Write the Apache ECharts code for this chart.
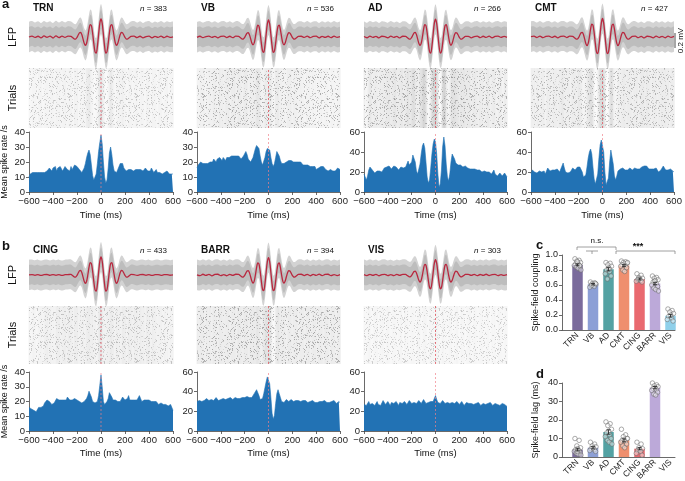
<!DOCTYPE html>
<html><head><meta charset="utf-8">
<script src="https://cdn.jsdelivr.net/npm/echarts@6/dist/echarts.min.js"></script>
<style>html,body{margin:0;padding:0;background:#fff}#c{width:685px;height:481px}</style>
</head><body><div id="c"></div><script>
// ---------------- DATA ----------------
const CATS = ['TRN','VB','AD','CMT','CING','BARR','VIS'];
const N_CELLS = [383,536,266,427,433,394,303];
const RATE_MAX = [40,40,60,60,40,60,60];
const RATE_STEP = [10,10,20,20,10,20,20];
const TIME_TICKS = [-600,-400,-200,0,200,400,600];
const RATE_T0 = -600, RATE_DT = 10;   // histogram bins: -600..600 ms, 10 ms

const TRN_RATE = [10,12,13,13,12,13,14,13,14,13, 14,13,12,13,12,14,15,16,15,14, 16,15,17,14,16,15,17,16,14,15, 17,18,15,16,14,17,15,16,18,17,
 17,16,15,14,13,14,16,19,23,26, 28,25,18,11,8,8,12,19,27,33, 38,32,20,10,6,8,16,26,30,25, 18,14,13,13,15,17,19,20,19,16,
 15,14,14,15,16,15,16,14,13,15, 16,15,14,15,16,14,15,16,15,14, 15,14,16,15,13,14,15,13,14,13, 14,12,13,13,12,14,13,12,13,12, 12];
const VB_RATE = [16,18,19,20,19,19,20,19,18,19, 19,20,21,20,22,21,20,22,21,23, 22,21,23,22,21,23,24,23,22,24, 23,24,23,24,25,24,23,22,23,24,
 25,27,25,22,21,20,21,23,26,29, 31,32,29,24,20,18,19,23,27,29, 30,28,23,19,17,19,23,27,27,24, 21,19,18,19,19,20,21,21,20,21,
 21,20,21,20,19,20,19,20,19,18, 19,18,19,18,19,17,18,17,16,17, 15,15,16,16,17,16,17,16,15,15, 14,14,15,14,14,15,14,14,16,15, 15];
const AD_RATE = [18,15,12,16,22,25,24,22,20,19, 20,21,19,21,22,20,22,24,23,25, 24,26,25,23,24,26,27,25,24,22, 22,25,27,24,22,25,28,31,27,26,
 30,37,38,30,21,18,20,28,38,46, 49,44,30,15,9,12,24,38,48,53, 50,38,18,5,8,22,45,55,46,28, 15,11,18,30,38,39,33,29,28,27,
 26,27,26,25,27,26,25,24,25,23, 22,23,22,23,21,22,21,22,21,20, 20,21,19,20,22,20,19,18,20,22, 18,17,16,17,19,18,16,17,19,18, 15];
const CMT_RATE = [18,22,24,20,18,19,20,21,19,20, 20,21,18,20,24,23,21,20,22,21, 22,21,23,22,20,22,26,29,24,20, 20,19,21,20,22,24,23,22,24,25,
 26,25,24,20,15,13,17,25,34,40, 43,38,25,13,8,9,18,34,47,52, 51,40,20,7,6,14,30,42,40,28, 16,12,16,21,23,23,22,24,23,22,
 23,22,23,24,23,22,23,24,23,23, 22,23,24,25,26,26,25,26,24,23, 24,23,24,23,22,24,23,20,21,22, 24,26,25,22,21,22,21,23,22,21, 20];
const CING_RATE = [16,15,15,14,14,13,13,14,16,17, 16,17,17,19,20,21,21,20,19,18, 18,19,20,22,22,21,22,21,20,21, 22,21,23,22,21,20,21,20,22,21,
 21,20,20,19,19,20,20,21,22,24, 27,26,23,20,19,19,18,20,24,31, 38,30,20,18,19,20,22,26,27,23, 21,20,21,21,20,20,20,21,23,24,
 21,20,22,24,21,20,21,22,21,20, 21,22,24,22,20,20,21,20,21,21, 21,20,20,21,20,19,20,19,18,19, 19,18,18,19,18,18,17,18,18,17, 14];
const BARR_RATE = [30,32,31,33,30,32,31,30,33,32, 31,33,32,30,31,33,34,32,31,33, 32,31,33,34,32,31,33,32,34,33, 32,33,34,32,33,35,33,32,34,33,
 34,33,35,36,34,33,34,36,38,40, 42,40,36,32,30,33,38,44,50,55, 56,48,34,18,12,16,28,38,42,38, 34,30,28,29,31,32,31,30,31,32,
 31,30,32,31,30,31,32,30,29,31, 30,31,30,29,31,30,29,31,30,29, 30,29,31,30,28,30,29,31,30,29, 30,29,28,30,29,31,30,28,29,30, 29];
const VIS_RATE = [27,29,26,28,30,27,25,28,29,26, 28,30,27,29,26,28,31,29,27,28, 30,28,26,29,31,28,27,30,28,26, 29,31,28,27,30,29,27,28,31,29,
 28,30,29,27,28,30,31,29,28,30, 32,30,28,27,29,31,30,28,30,33, 36,32,29,27,28,30,31,29,28,30, 29,27,28,30,29,27,28,29,30,28,
 27,29,30,28,26,28,29,27,28,30, 28,26,27,29,28,27,29,28,26,27, 28,29,27,26,28,27,29,28,26,27, 28,26,27,28,26,27,28,26,27,26, 25];

// mean LFP (mV) sampled at these times (ms)
const LFP_T = [-600,-575,-550,-525,-500,-475,-450,-425,-400,-375,-350,-325,-300,-275,
 -250,-240,-230,-220,-210,-200,-190,-180,-170,-160,-150,-140,-130,-120,-110,-100,-90,-80,-70,-60,-50,-40,-30,-20,-10,
 0,10,20,30,40,50,60,70,80,90,100,110,120,130,140,150,160,170,180,190,200,210,220,230,240,250,
 275,300,325,350,375,400,425,450,475,500,525,550,575,600];
const TRN_LFP = [0.000,0.012,-0.006,0.010,-0.012,0.014,-0.004,0.011,-0.013,0.016,-0.008,0.012,-0.005,0.013,
 0.008,-0.003,-0.017,-0.028,-0.026,-0.006,0.026,0.055,0.060,0.032,-0.025,-0.084,-0.112,-0.083,0.000,0.101,0.166,0.152,0.054,-0.085,-0.196,-0.215,-0.125,0.034,0.181,
 0.240,0.181,0.034,-0.125,-0.215,-0.196,-0.085,0.054,0.152,0.166,0.101,0.000,-0.083,-0.112,-0.084,-0.025,0.032,0.060,0.055,0.026,-0.006,-0.026,-0.028,-0.017,-0.003,0.008,
 0.012,-0.008,0.010,-0.012,0.006,0.013,-0.010,0.008,-0.006,0.012,-0.009,0.010,-0.004,0.003];
const VB_LFP = [-0.004,0.010,-0.008,0.006,0.012,-0.006,0.009,-0.011,0.008,0.013,-0.007,0.010,-0.009,0.011,
 0.008,-0.003,-0.016,-0.027,-0.025,-0.006,0.025,0.052,0.057,0.030,-0.024,-0.080,-0.106,-0.079,0.000,0.096,0.158,0.144,0.051,-0.081,-0.186,-0.204,-0.119,0.032,0.172,
 0.228,0.172,0.032,-0.119,-0.204,-0.186,-0.081,0.051,0.144,0.158,0.096,0.000,-0.079,-0.106,-0.080,-0.024,0.030,0.057,0.052,0.025,-0.006,-0.025,-0.027,-0.016,-0.003,0.008,
 0.010,-0.006,0.012,-0.009,0.007,0.011,-0.012,0.009,-0.005,0.010,-0.008,0.012,-0.006,0.004];
const AD_LFP = [0.006,-0.010,0.012,-0.004,0.009,-0.012,0.010,0.004,-0.010,0.012,-0.006,0.008,-0.012,0.010,
 0.008,-0.003,-0.017,-0.028,-0.026,-0.006,0.026,0.055,0.060,0.032,-0.025,-0.084,-0.112,-0.083,0.000,0.101,0.166,0.152,0.054,-0.085,-0.196,-0.215,-0.125,0.034,0.181,
 0.238,0.180,0.034,-0.124,-0.213,-0.194,-0.084,0.054,0.150,0.164,0.100,0.000,-0.082,-0.110,-0.083,-0.025,0.032,0.059,0.054,0.026,-0.006,-0.026,-0.028,-0.017,-0.003,0.008,
 0.009,-0.011,0.006,0.012,-0.008,0.010,-0.006,0.011,-0.010,0.007,0.012,-0.005,0.009,-0.004];
const CMT_LFP = [0.004,0.011,-0.007,0.012,-0.009,0.008,0.013,-0.006,0.010,-0.011,0.009,0.012,-0.007,0.011,
 0.008,-0.003,-0.018,-0.029,-0.027,-0.006,0.027,0.057,0.062,0.033,-0.026,-0.087,-0.115,-0.085,0.000,0.104,0.171,0.157,0.056,-0.088,-0.202,-0.221,-0.129,0.035,0.186,
 0.247,0.186,0.035,-0.129,-0.221,-0.202,-0.088,0.056,0.157,0.171,0.104,0.000,-0.085,-0.115,-0.087,-0.026,0.033,0.062,0.057,0.027,-0.006,-0.027,-0.029,-0.018,-0.003,0.008,
 0.011,-0.009,0.008,-0.012,0.010,0.006,-0.011,0.012,-0.007,0.009,-0.010,0.011,-0.006,0.008];
const CING_LFP = [0.002,0.006,-0.004,0.005,-0.006,0.004,0.007,-0.005,0.006,-0.004,0.005,-0.006,0.004,0.006,
 0.008,-0.003,-0.017,-0.028,-0.026,-0.006,0.026,0.055,0.060,0.032,-0.025,-0.084,-0.112,-0.083,0.000,0.101,0.166,0.152,0.054,-0.085,-0.196,-0.215,-0.125,0.034,0.181,
 0.240,0.181,0.034,-0.125,-0.215,-0.196,-0.085,0.054,0.152,0.166,0.101,0.000,-0.083,-0.112,-0.084,-0.025,0.032,0.060,0.055,0.026,-0.006,-0.026,-0.028,-0.017,-0.003,0.008,
 0.005,-0.006,0.004,0.007,-0.004,0.005,-0.006,0.004,0.006,-0.005,0.004,0.006,-0.003,0.002];
const BARR_LFP = [0.003,-0.008,0.010,-0.006,0.009,-0.011,0.007,0.010,-0.008,0.006,-0.010,0.009,-0.005,0.010,
 0.008,-0.003,-0.016,-0.027,-0.025,-0.006,0.025,0.053,0.058,0.031,-0.024,-0.081,-0.109,-0.081,0.000,0.098,0.161,0.147,0.052,-0.082,-0.190,-0.209,-0.121,0.033,0.176,
 0.233,0.176,0.033,-0.121,-0.209,-0.190,-0.082,0.052,0.147,0.161,0.098,0.000,-0.081,-0.109,-0.081,-0.024,0.031,0.058,0.053,0.025,-0.006,-0.025,-0.027,-0.016,-0.003,0.008,
 0.010,-0.007,0.009,-0.010,0.008,-0.006,0.011,-0.008,0.007,0.010,-0.009,0.006,-0.007,0.005];
const VIS_LFP = [0.005,-0.007,0.009,-0.005,0.008,-0.010,0.006,0.009,-0.007,0.005,-0.009,0.008,-0.004,0.009,
 0.007,-0.003,-0.014,-0.024,-0.022,-0.005,0.022,0.047,0.051,0.027,-0.021,-0.071,-0.095,-0.071,0.000,0.086,0.141,0.129,0.046,-0.072,-0.167,-0.183,-0.106,0.029,0.154,
 0.204,0.154,0.029,-0.106,-0.183,-0.167,-0.072,0.046,0.129,0.141,0.086,0.000,-0.071,-0.095,-0.071,-0.021,0.027,0.051,0.047,0.022,-0.005,-0.022,-0.024,-0.014,-0.003,0.007,
 0.009,-0.006,0.008,-0.009,0.007,-0.005,0.010,-0.007,0.006,0.009,-0.008,0.005,-0.006,0.004];

// panel c: spike-field coupling, panel d: spike-field lag (ms)
const COUPLING_MEAN = [0.87,0.61,0.81,0.86,0.68,0.62,0.19];
const COUPLING_SEM  = [0.012,0.010,0.022,0.012,0.012,0.016,0.018];
const COUPLING_PTS = [
 [0.95,0.93,0.92,0.90,0.89,0.88,0.87,0.86,0.85,0.84,0.82,0.80,0.91,0.86],
 [0.64,0.63,0.62,0.61,0.60,0.59,0.58,0.57,0.62,0.60],
 [0.90,0.89,0.87,0.85,0.83,0.80,0.78,0.75,0.72,0.68,0.82],
 [0.92,0.91,0.90,0.89,0.88,0.87,0.86,0.85,0.83,0.80,0.78,0.90],
 [0.75,0.73,0.70,0.69,0.68,0.67,0.66,0.65,0.64,0.68],
 [0.72,0.70,0.69,0.67,0.66,0.64,0.62,0.60,0.58,0.56,0.54,0.52,0.65],
 [0.28,0.26,0.24,0.22,0.20,0.18,0.16,0.14,0.12]];
const LAG_MEAN = [4.0,5.0,13.5,9.0,4.5,37.5,null];
const LAG_SEM  = [0.7,0.6,1.2,0.8,0.6,0.6,null];
const LAG_PTS = [
 [10,9,6,5,4.5,4,3.5,3,2.5,2,1.5,1,3],
 [8,7,6,5.5,5,4.5,4,3.5,3],
 [19,18,17,15,14,13,12,11,10,9,8,7],
 [15,12,11,10,9.5,9,8.5,8,7,6,5,10],
 [8,7,5,4.5,4,3.5,3,2,1],
 [40,39,38.5,38,37.5,37,36.5,36,35,34,33.5],
 []];

// ---------------- STYLE / LAYOUT ----------------
const FONT = '"Liberation Sans", Arial, Helvetica, sans-serif';
const BAR_COLORS = ['#7a6b9c','#8c9fd6','#54a2a3','#ef8f6e','#e9696f','#bca9d9','#8fd0ea'];
const HIST_BLUE = '#2272b4';
const RED = '#b8283f';
const RATES = [TRN_RATE,VB_RATE,AD_RATE,CMT_RATE,CING_RATE,BARR_RATE,VIS_RATE];
const LFPS = [TRN_LFP,VB_LFP,AD_LFP,CMT_LFP,CING_LFP,BARR_LFP,VIS_LFP];
const COLS = [[29,173],[197,340],[364,507],[531,674],[29,173],[197,340],[364,507]];
const ROWOF = [0,0,0,0,1,1,1];
const ROWS = [
 {title:8, lfp:37, rasTop:68, rasBot:128, hTop:132, hBot:192, time:215},
 {title:250, lfp:275, rasTop:306, rasBot:364, hTop:372, hBot:431, time:453}];
const RASTER_TONE = [0.10,0.10,0.18,0.16,0.10,0.12,0.06];
const RASTER_SPECK = [0.32,0.45,0.45,0.4,0.32,0.45,0.28];
const BAND_OUT = 0.2, BAND_IN = 0.13;   // half-widths (mV) of gray trace cloud
const JIT = [-0.55,0.35,-0.15,0.65,0.05,-0.4,0.25,-0.7,0.55,-0.25,0.15,0.75,-0.05,0.45];

// speckle texture (deterministic hash) for raster look
const SPECK = (function(){
  const c=document.createElement('canvas'); c.width=67; c.height=53;
  const ctx=c.getContext('2d');
  for(let y=0;y<53;y++) for(let x=0;x<67;x++){
    let h=(Math.imul(x,374761393)+Math.imul(y,668265263))|0;
    h=Math.imul(h^(h>>>13),1274126177); h=(h^(h>>>16))>>>0;
    const v=h%1000;
    if(v<170){ ctx.fillStyle='rgba(30,30,30,'+(0.25+(v%6)*0.1).toFixed(2)+')'; ctx.fillRect(x,y,1,1); }
  }
  return c;
})();

const grids=[], xAxes=[], yAxes=[], series=[], graphics=[];
function minus(v){ return v<0 ? '\u2212'+(-v) : String(v); }
function txt(x,y,text,font,align,valign,rot,extra){
  graphics.push({type:'text', x:x, y:y, rotation:rot||0, silent:true,
    style:Object.assign({text:text, font:font, textAlign:align||'left', textVerticalAlign:valign||'middle', fill:'#111'}, extra||{})});
}
function addGrid(g,xa,ya){ grids.push(Object.assign({containLabel:false, outerBoundsMode:'none'},g)); const gi=grids.length-1;
  xAxes.push(Object.assign({gridIndex:gi},xa)); yAxes.push(Object.assign({gridIndex:gi},ya)); return gi; }
function bandSeries(gi,pts,half,color,z){
  return {type:'custom',xAxisIndex:gi,yAxisIndex:gi,data:pts,silent:true,z:z,clip:true,
    renderItem:function(params,api){
      if(params.dataIndex!==0) return null;
      const up=pts.map(p=>api.coord([p[0],p[1]+half]));
      const lo=pts.map(p=>api.coord([p[0],p[1]-half])).reverse();
      return {type:'polygon',shape:{points:up.concat(lo),smooth:0.25},style:{fill:color}};
    }};
}
function zeroLine(gi,ymax,color){
  return {type:'custom',xAxisIndex:gi,yAxisIndex:gi,data:[[0,0]],silent:true,z:6,
    renderItem:function(params,api){
      const a=api.coord([0,0]), b=api.coord([0,ymax]);
      return {type:'line',shape:{x1:a[0],y1:a[1],x2:b[0],y2:b[1]},style:{stroke:color,lineWidth:0.8,lineDash:[2,2],opacity:0.85}};
    }};
}
const AXL = {show:true,onZero:false,lineStyle:{color:'#444',width:0.8}};
const AXT = {show:true,length:3,lineStyle:{color:'#444',width:0.8}};

for(let k=0;k<7;k++){
  const [x0,x1]=COLS[k], R=ROWS[ROWOF[k]], W=x1-x0;
  const rate=RATES[k].map((v,i)=>[RATE_T0+i*RATE_DT, v]);
  const lfp=LFPS[k].map((v,i)=>[LFP_T[i], v]);
  // LFP
  let gi=addGrid({left:x0, width:W, top:R.lfp-37.5, height:75},
    {type:'value',min:-600,max:600,show:false},{type:'value',min:-0.5,max:0.5,show:false});
  series.push(bandSeries(gi,lfp,BAND_OUT,'#d3d3d3',1));
  series.push(bandSeries(gi,lfp,BAND_IN,'#bdbdbd',2));
  series.push({type:'line',xAxisIndex:gi,yAxisIndex:gi,data:lfp,smooth:0.3,showSymbol:false,silent:true,
    lineStyle:{color:RED,width:1.3},z:3});
  // raster
  gi=addGrid({left:x0, width:W, top:R.rasTop, height:R.rasBot-R.rasTop},
    {type:'value',min:-600,max:600,show:false},{type:'value',min:0,max:1,show:false});
  const tone=RASTER_TONE[k], rmax=RATE_MAX[k], speck=RASTER_SPECK[k];
  series.push({type:'custom',xAxisIndex:gi,yAxisIndex:gi,data:rate,silent:true,z:1,
    renderItem:function(params,api){
      const t=api.value(0), r=api.value(1);
      const a=api.coord([t-RATE_DT/2,1]), b=api.coord([t+RATE_DT/2,0]);
      const al=Math.min(0.5, tone*r/rmax);
      return {type:'rect',shape:{x:a[0],y:a[1],width:b[0]-a[0]+0.4,height:b[1]-a[1]},style:{fill:'rgba(40,40,40,'+al.toFixed(3)+')'}};
    }});
  series.push({type:'custom',xAxisIndex:gi,yAxisIndex:gi,data:[[-600,1]],silent:true,z:2,
    renderItem:function(params,api){
      const a=api.coord([-600,1]), b=api.coord([600,0]);
      return {type:'rect',shape:{x:a[0],y:a[1],width:b[0]-a[0],height:b[1]-a[1]},style:{fill:{image:SPECK,repeat:'repeat'},opacity:speck}};
    }});
  series.push(zeroLine(gi,1,'#e0404c'));
  // histogram
  gi=addGrid({left:x0, width:W, top:R.hTop, height:R.hBot-R.hTop},
    {type:'value',min:TIME_TICKS[0],max:TIME_TICKS[TIME_TICKS.length-1],interval:200,
     axisLine:AXL,axisTick:AXT,splitLine:{show:false},axisLabel:{formatter:minus,fontSize:9.5,fontFamily:FONT,color:'#222',margin:4}},
    {type:'value',min:0,max:RATE_MAX[k],interval:RATE_STEP[k],
     axisLine:AXL,axisTick:AXT,splitLine:{show:false},axisLabel:{fontSize:9.5,fontFamily:FONT,color:'#222',margin:4}});
  series.push({type:'line',xAxisIndex:gi,yAxisIndex:gi,data:rate,showSymbol:false,silent:true,
    lineStyle:{color:HIST_BLUE,width:0.6},areaStyle:{color:HIST_BLUE,opacity:1},z:2});
  series.push(zeroLine(gi,RATE_MAX[k],'#f08088'));
  // texts
  txt(x0+4, R.title, CATS[k], 'bold 10px '+FONT, 'left','middle');
  txt(x1-6, R.title+1, '{i|n} = '+N_CELLS[k], '8px '+FONT, 'right','middle',0,{rich:{i:{fontStyle:'italic',fontSize:8,fontFamily:FONT}}});
  txt((x0+x1)/2, R.time, 'Time (ms)', '9.5px '+FONT, 'center','middle');
  if(x0===29){
    txt(13, R.lfp, 'LFP', '11px '+FONT, 'center','middle', Math.PI/2);
    txt(13, (R.rasTop+R.rasBot)/2, 'Trials', '11px '+FONT, 'center','middle', Math.PI/2);
    txt(5, (R.hTop+R.hBot)/2, 'Mean spike rate /s', '9px '+FONT, 'center','middle', Math.PI/2);
  }
}
// panel letters
txt(2, 4, 'a', 'bold 13px '+FONT, 'left','middle');
txt(2, 246, 'b', 'bold 13px '+FONT, 'left','middle');
txt(536, 245, 'c', 'bold 13px '+FONT, 'left','middle');
txt(536, 374, 'd', 'bold 13px '+FONT, 'left','middle');
// scale bar 0.2 mV
graphics.push({type:'line',silent:true,shape:{x1:675,y1:33,x2:675,y2:48},style:{stroke:'#222',lineWidth:0.8}});
txt(681, 40.5, '0.2 mV', '8px '+FONT, 'center','middle', Math.PI/2);

// bar panels
function barPanel(top,height,ymax,yint,mean,sem,pts,yname,fmt){
  const gi=addGrid({left:562, width:113, top:top, height:height},
    {type:'value',min:-1,max:6.29,interval:1,
     axisLine:AXL,axisTick:{show:false},splitLine:{show:false},
     axisLabel:{formatter:v=>(Number.isInteger(v)&&v>=0&&v<CATS.length)?CATS[v]:'',rotate:45,fontSize:8.5,fontFamily:FONT,color:'#222',margin:4}},
    {type:'value',min:0,max:ymax,interval:yint,name:yname,nameLocation:'middle',nameGap:22,
     nameTextStyle:{fontSize:9,fontFamily:FONT,color:'#222'},
     axisLine:AXL,axisTick:AXT,splitLine:{show:false},axisLabel:{formatter:fmt,fontSize:9,fontFamily:FONT,color:'#222',margin:4}});
  series.push({type:'bar',xAxisIndex:gi,yAxisIndex:gi,barWidth:10.5,silent:true,z:2,
    data:mean.map((m,i)=>({value:[i,m],itemStyle:{color:BAR_COLORS[i]}})).filter(d=>d.value[1]!==null)});
  series.push({type:'custom',xAxisIndex:gi,yAxisIndex:gi,silent:true,z:4,
    data:mean.map((m,i)=>[i,m,sem[i]]).filter(d=>d[1]!==null),
    renderItem:function(params,api){
      const i=api.value(0),m=api.value(1),s=api.value(2);
      const a=api.coord([i,m+s]), b=api.coord([i,m-s]);
      return {type:'group',children:[
        {type:'line',shape:{x1:a[0],y1:a[1],x2:b[0],y2:b[1]},style:{stroke:'#222',lineWidth:0.8}},
        {type:'line',shape:{x1:a[0]-2,y1:a[1],x2:a[0]+2,y2:a[1]},style:{stroke:'#222',lineWidth:0.8}},
        {type:'line',shape:{x1:b[0]-2,y1:b[1],x2:b[0]+2,y2:b[1]},style:{stroke:'#222',lineWidth:0.8}}]};
    }});
  const dots=[];
  pts.forEach((arr,i)=>arr.forEach((v,j)=>dots.push([i+JIT[j%JIT.length]*0.3, v])));
  series.push({type:'scatter',xAxisIndex:gi,yAxisIndex:gi,silent:true,z:3,data:dots,symbolSize:4.5,
    itemStyle:{color:'rgba(255,255,255,0.55)',borderColor:'#6a6a6a',borderWidth:0.7}});
  return gi;
}
barPanel(255,75,1,0.2,COUPLING_MEAN,COUPLING_SEM,COUPLING_PTS,'Spike-field coupling',v=>v.toFixed(1));
barPanel(383,74,40,10,LAG_MEAN,LAG_SEM,LAG_PTS,'Spike-field lag (ms)',v=>String(v));

// significance brackets (panel c)
function seg(x1,y1,x2,y2){ graphics.push({type:'line',silent:true,shape:{x1,y1,x2,y2},style:{stroke:'#888',lineWidth:0.8}}); }
seg(577,247,616,247); seg(577,247,577,250); seg(616,247,616,250);
seg(586,251,598,251); seg(592,251,592,254);
seg(616,251,675,251); seg(616,251,616,254); seg(675,251,675,254);
txt(597,241,'n.s.','8px '+FONT,'center','middle');
txt(638,247,'***','bold 9px '+FONT,'center','middle');

const chart = echarts.init(document.getElementById('c'), null, {renderer:'canvas', width:685, height:481});
chart.setOption({animation:false, backgroundColor:'#fff', grid:grids, xAxis:xAxes, yAxis:yAxes, series:series, graphic:{elements:graphics}});
</script></body></html>
